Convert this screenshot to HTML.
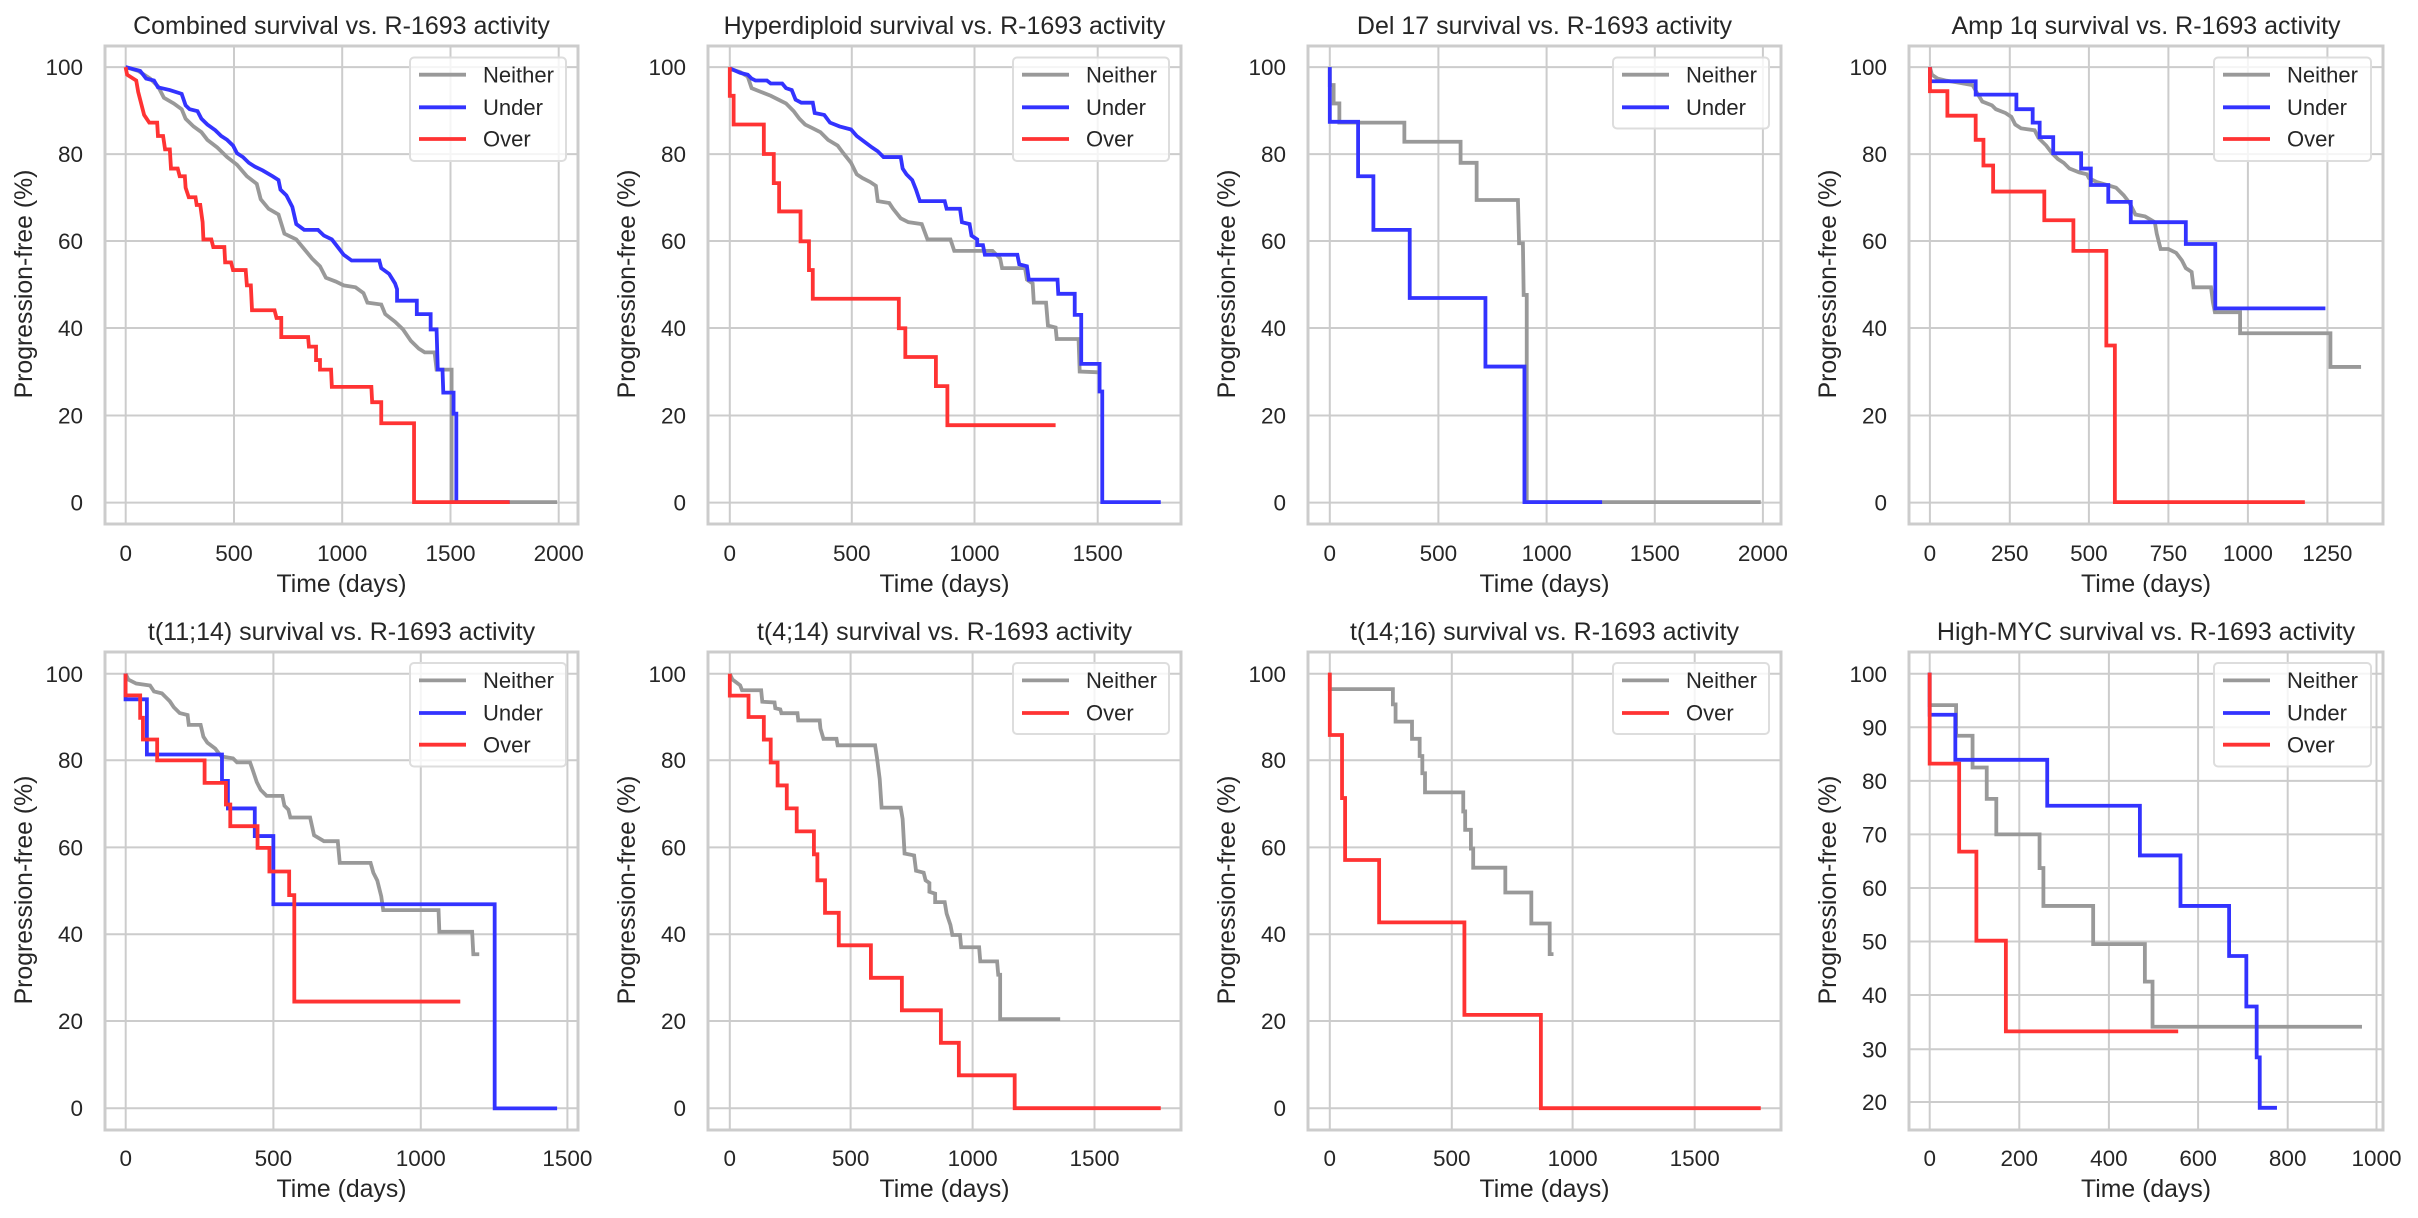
<!DOCTYPE html>
<html><head><meta charset="utf-8"><style>
html,body{margin:0;padding:0;background:#fff}
svg{display:block;font-family:"Liberation Sans",Arial,sans-serif;fill:#262626}
.g{stroke:#cccccc;stroke-width:2}
.fr{fill:none;stroke:#cccccc;stroke-width:3}
.c{fill:none;stroke-width:3.8;vector-effect:non-scaling-stroke;stroke-linejoin:miter}
.n{stroke:#999999}.u{stroke:#3333ff}.o{stroke:#ff3333}
.yt{font-size:22.5px;text-anchor:end}
.xt{font-size:22.5px;text-anchor:middle}
.lab{font-size:24.8px;text-anchor:middle}
.ti{font-size:25px;text-anchor:middle}
.lg{font-size:22px}
.lb{fill:#fff;fill-opacity:.8;stroke:#dddddd;stroke-width:2}
</style></head><body>
<svg width="2418" height="1218" viewBox="0 0 2418 1218" xmlns="http://www.w3.org/2000/svg">
<rect width="2418" height="1218" fill="#fff"/>

<g class="g">
<path d="M105 67.1H578M105 154.1H578M105 241H578M105 328H578M105 415.5H578M105 502.6H578"/>
<path d="M708 67.1H1181M708 154.1H1181M708 241H1181M708 328H1181M708 415.5H1181M708 502.6H1181"/>
<path d="M1308 67.1H1781M1308 154.1H1781M1308 241H1781M1308 328H1781M1308 415.5H1781M1308 502.6H1781"/>
<path d="M1909 67.1H2383M1909 154.1H2383M1909 241H2383M1909 328H2383M1909 415.5H2383M1909 502.6H2383"/>
<path d="M125.7 46V524M234 46V524M342.2 46V524M450.5 46V524M558.7 46V524"/>
<path d="M729.8 46V524M851.8 46V524M974.5 46V524M1097.7 46V524"/>
<path d="M1329.8 46V524M1438.4 46V524M1546.6 46V524M1654.8 46V524M1762.9 46V524"/>
<path d="M1929.9 46V524M2009.8 46V524M2088.9 46V524M2168.4 46V524M2247.9 46V524M2327.4 46V524"/>
<path d="M105 673.8H578M105 760.2H578M105 847.4H578M105 934.2H578M105 1021H578M105 1108.2H578"/>
<path d="M708 673.8H1181M708 760.2H1181M708 847.4H1181M708 934.2H1181M708 1021H1181M708 1108.2H1181"/>
<path d="M1308 673.8H1781M1308 760.2H1781M1308 847.4H1781M1308 934.2H1781M1308 1021H1781M1308 1108.2H1781"/>
<path d="M1909 673.8H2383M1909 727.3H2383M1909 780.9H2383M1909 834.4H2383M1909 888H2383M1909 941.5H2383M1909 995H2383M1909 1049.3H2383M1909 1102H2383"/>
<path d="M125.7 652V1130M273.4 652V1130M420.8 652V1130M567.4 652V1130"/>
<path d="M729.8 652V1130M850.6 652V1130M972.6 652V1130M1094.5 652V1130"/>
<path d="M1329.8 652V1130M1451.8 652V1130M1572.6 652V1130M1694.7 652V1130"/>
<path d="M1929.7 652V1130M2019.3 652V1130M2108.9 652V1130M2198.1 652V1130M2287.7 652V1130M2376.5 652V1130"/>
</g>

<g transform="translate(105,46) scale(0.3952,0.3830) translate(-266,-120)">
<polyline class="c n" points="318,175 350,185 380,205 400,225 415,255 440,270 460,285 470,310 490,330 510,345 525,365 550,385 575,410 600,430 625,460 650,480 660,520 680,545 705,560 720,610 750,625 770,650 790,675 810,695 825,725 850,735 870,745 900,750 920,765 930,790 965,795 975,820 1000,840 1020,860 1040,890 1060,910 1075,920 1100,920 1105,965 1143,965 1143,1311 1410,1311"/>
<polyline class="c u" points="318,175 355,185 370,205 390,210 400,228 430,235 460,245 470,275 480,285 500,290 510,310 525,325 545,340 560,355 575,365 590,380 600,400 615,410 630,425 645,435 665,445 690,460 705,470 710,495 725,510 740,540 750,585 770,600 805,600 820,615 840,625 855,645 870,665 890,680 960,680 965,700 985,715 1000,740 1005,755 1005,785 1055,785 1055,820 1090,820 1090,860 1105,860 1108,965 1120,965 1122,1025 1148,1025 1148,1080 1155,1080 1155,1311 1290,1311"/>
<polyline class="c o" points="318,175 322,195 345,210 350,240 365,300 378,320 398,320 400,355 413,355 418,390 430,390 433,440 450,440 455,460 468,460 470,490 478,515 495,515 498,535 507,535 513,580 515,625 535,625 540,645 568,645 570,685 585,685 590,705 622,705 625,745 635,745 638,810 695,810 700,830 712,830 712,880 780,880 782,905 800,905 800,940 810,940 810,965 838,965 840,1010 940,1010 942,1050 965,1050 965,1105 1048,1105 1048,1311 1290,1311"/>
</g>
<g transform="translate(708,46) scale(0.3824,0.3830) translate(-256,-120)">
<polyline class="c n" points="313,180 340,188 360,200 370,230 395,240 420,250 440,260 460,270 480,290 495,310 510,325 530,335 550,345 570,365 595,380 610,400 630,425 645,455 660,465 680,475 695,485 700,525 730,530 740,545 760,570 780,580 815,585 830,625 890,625 900,655 1000,655 1020,675 1025,700 1085,700 1090,730 1105,740 1108,790 1140,790 1145,850 1165,855 1168,885 1225,885 1228,970 1278,972"/>
<polyline class="c u" points="313,178 340,190 360,195 370,205 380,210 410,210 420,218 450,218 460,230 475,235 485,260 500,268 530,268 535,295 560,300 575,320 600,330 630,338 645,355 665,370 685,385 700,395 715,410 760,410 765,440 775,455 790,470 800,495 810,525 875,525 880,545 915,545 920,580 940,585 945,615 960,625 960,640 975,640 980,665 1065,665 1070,690 1090,695 1095,730 1170,730 1172,767 1215,767 1215,822 1232,822 1232,950 1280,950 1280,1022 1287,1022 1287,1311 1440,1311"/>
<polyline class="c o" points="313,175 313,250 323,250 323,325 402,325 402,402 428,402 428,478 442,478 442,552 498,552 498,630 520,630 520,705 530,705 530,780 755,780 755,857 772,857 772,932 852,932 852,1008 882,1008 882,1110 1165,1110"/>
</g>
<g transform="translate(1308,46) scale(0.3824,0.3830) translate(-256,-120)">
<polyline class="c n" points="313,175 313,222 323,222 323,270 338,270 338,320 508,320 508,370 655,370 655,425 697,425 697,522 805,522 808,635 818,635 820,770 828,770 828,1311 1440,1311"/>
<polyline class="c u" points="313,175 313,318 387,318 387,460 427,460 427,600 522,600 522,778 720,778 720,957 822,957 822,1311 1025,1311"/>
</g>
<g transform="translate(1909,46) scale(0.3877,0.3830) translate(-256,-120)">
<polyline class="c n" points="310,175 315,195 330,205 350,210 380,215 420,222 430,240 445,265 470,275 480,285 505,295 520,305 530,325 545,335 580,340 590,360 610,380 625,400 640,415 655,425 670,440 695,450 715,455 720,465 740,475 790,490 810,510 825,530 840,560 865,565 890,580 895,610 905,650 925,650 945,660 960,680 970,700 985,710 990,750 1035,750 1040,790 1045,815 1110,815 1110,870 1343,870 1343,958 1422,958"/>
<polyline class="c u" points="310,175 310,212 428,212 428,247 533,247 533,285 575,285 575,320 593,320 593,358 628,358 628,400 700,400 700,440 725,440 725,483 770,483 770,527 828,527 828,580 970,580 970,637 1046,637 1046,805 1330,805"/>
<polyline class="c o" points="310,175 310,238 355,238 355,302 428,302 428,365 448,365 448,432 473,432 473,500 605,500 605,575 680,575 680,655 765,655 765,902 787,902 787,1311 1277,1311"/>
</g>
<g transform="translate(105,652) scale(0.3952,0.3941) translate(-266,-130)">
<polyline class="c n" points="318,185 325,200 345,210 380,215 390,230 410,235 420,245 430,255 440,270 455,285 475,290 478,315 508,315 515,345 525,360 545,375 560,395 590,400 600,410 633,410 640,430 650,460 660,480 675,495 715,495 720,520 730,530 735,550 785,550 795,595 820,610 855,610 860,665 938,665 945,690 955,710 965,750 970,785 1110,785 1112,840 1195,840 1198,897 1213,897"/>
<polyline class="c u" points="318,185 318,250 372,250 372,390 562,390 562,457 577,457 577,527 645,527 645,597 692,597 692,770 1252,770 1252,1288 1410,1288"/>
<polyline class="c o" points="318,185 318,240 355,240 355,297 362,297 362,352 398,352 398,405 518,405 518,462 572,462 572,517 583,517 583,572 652,572 652,627 682,627 682,687 732,687 732,747 745,747 745,1017 1165,1017"/>
</g>
<g transform="translate(708,652) scale(0.3824,0.3824) translate(-256,-108)">
<polyline class="c n" points="313,165 320,180 340,195 345,208 395,208 398,238 430,240 432,255 445,258 448,268 490,268 492,287 548,287 550,308 558,335 592,335 595,352 693,352 698,385 705,440 710,515 760,515 765,545 770,635 795,640 800,680 820,685 825,705 835,712 835,735 850,740 850,762 875,762 880,792 890,822 895,848 915,848 918,880 965,880 968,917 1012,917 1015,952 1020,952 1020,1068 1177,1068"/>
<polyline class="c o" points="313,165 313,222 362,222 362,278 402,278 402,337 420,337 420,397 438,397 438,457 462,457 462,517 488,517 488,577 533,577 533,637 542,637 542,705 562,705 562,790 598,790 598,875 682,875 682,960 763,960 763,1045 865,1045 865,1130 912,1130 912,1215 1058,1215 1058,1301 1440,1301"/>
</g>
<g transform="translate(1308,652) scale(0.3824,0.3824) translate(-256,-108)">
<polyline class="c n" points="313,165 313,205 478,205 478,245 485,245 485,290 528,290 528,335 548,335 548,380 555,380 555,425 562,425 562,475 662,475 662,525 667,525 667,573 682,573 682,622 688,622 688,672 772,672 772,737 840,737 840,818 888,818 888,898 898,898"/>
<polyline class="c o" points="313,162 313,325 345,325 345,490 353,490 353,652 442,652 442,815 665,815 665,1057 865,1057 865,1301 1440,1301"/>
</g>
<g transform="translate(1909,652) scale(0.3829,0.3824) translate(-259,-108)">
<polyline class="c n" points="313,162 313,247 382,247 382,327 425,327 425,410 462,410 462,492 487,492 487,585 600,585 600,673 610,673 610,772 740,772 740,872 875,872 875,970 895,970 895,1088 1442,1088"/>
<polyline class="c u" points="313,162 313,272 380,272 380,390 620,390 620,510 862,510 862,640 968,640 968,772 1095,772 1095,903 1140,903 1140,1035 1167,1035 1167,1168 1175,1168 1175,1300 1220,1300"/>
<polyline class="c o" points="313,162 313,400 390,400 390,630 435,630 435,863 512,863 512,1100 962,1100"/>
</g>

<rect class="fr" x="105" y="46" width="473" height="478"/>
<rect class="fr" x="708" y="46" width="473" height="478"/>
<rect class="fr" x="1308" y="46" width="473" height="478"/>
<rect class="fr" x="1909" y="46" width="474" height="478"/>
<rect class="fr" x="105" y="652" width="473" height="478"/>
<rect class="fr" x="708" y="652" width="473" height="478"/>
<rect class="fr" x="1308" y="652" width="473" height="478"/>
<rect class="fr" x="1909" y="652" width="474" height="478"/>

<g stroke-width="3.8">
<rect class="lb" x="410" y="57.5" width="156" height="103.5" rx="4"/>
<path d="M419 74.7H466" stroke="#999"/><path d="M419 107.3H466" stroke="#3333ff"/><path d="M419 139H466" stroke="#ff3333"/>
<rect class="lb" x="1013" y="57.5" width="156" height="103.5" rx="4"/>
<path d="M1022 74.7H1069" stroke="#999"/><path d="M1022 107.3H1069" stroke="#3333ff"/><path d="M1022 139H1069" stroke="#ff3333"/>
<rect class="lb" x="1613" y="57.5" width="156" height="71" rx="4"/>
<path d="M1622 74.7H1669" stroke="#999"/><path d="M1622 107.3H1669" stroke="#3333ff"/>
<rect class="lb" x="2214" y="57.5" width="157" height="103.5" rx="4"/>
<path d="M2223 74.7H2270" stroke="#999"/><path d="M2223 107.3H2270" stroke="#3333ff"/><path d="M2223 139H2270" stroke="#ff3333"/>
<rect class="lb" x="410" y="663" width="156" height="103.5" rx="4"/>
<path d="M419 680.4H466" stroke="#999"/><path d="M419 713H466" stroke="#3333ff"/><path d="M419 744.7H466" stroke="#ff3333"/>
<rect class="lb" x="1013" y="663" width="156" height="71" rx="4"/>
<path d="M1022 680.4H1069" stroke="#999"/><path d="M1022 713H1069" stroke="#ff3333"/>
<rect class="lb" x="1613" y="663" width="156" height="71" rx="4"/>
<path d="M1622 680.4H1669" stroke="#999"/><path d="M1622 713H1669" stroke="#ff3333"/>
<rect class="lb" x="2214" y="663" width="157" height="103.5" rx="4"/>
<path d="M2223 680.4H2270" stroke="#999"/><path d="M2223 713H2270" stroke="#3333ff"/><path d="M2223 744.7H2270" stroke="#ff3333"/>
</g>
<g class="lg">
<text x="483" y="82.5">Neither</text><text x="483" y="115">Under</text><text x="483" y="146.5">Over</text>
<text x="1086" y="82.5">Neither</text><text x="1086" y="115">Under</text><text x="1086" y="146.5">Over</text>
<text x="1686" y="82.5">Neither</text><text x="1686" y="115">Under</text>
<text x="2287" y="82.5">Neither</text><text x="2287" y="115">Under</text><text x="2287" y="146.5">Over</text>
<text x="483" y="688">Neither</text><text x="483" y="720.5">Under</text><text x="483" y="752.5">Over</text>
<text x="1086" y="688">Neither</text><text x="1086" y="720.5">Over</text>
<text x="1686" y="688">Neither</text><text x="1686" y="720.5">Over</text>
<text x="2287" y="688">Neither</text><text x="2287" y="720.5">Under</text><text x="2287" y="752.5">Over</text>
</g>

<text class="ti" x="341.5" y="34">Combined survival vs. R-1693 activity</text>
<text class="ti" x="944.5" y="34">Hyperdiploid survival vs. R-1693 activity</text>
<text class="ti" x="1544.5" y="34">Del 17 survival vs. R-1693 activity</text>
<text class="ti" x="2146" y="34">Amp 1q survival vs. R-1693 activity</text>
<text class="ti" x="341.5" y="640">t(11;14) survival vs. R-1693 activity</text>
<text class="ti" x="944.5" y="640">t(4;14) survival vs. R-1693 activity</text>
<text class="ti" x="1544.5" y="640">t(14;16) survival vs. R-1693 activity</text>
<text class="ti" x="2146" y="640">High-MYC survival vs. R-1693 activity</text>

<g class="lab">
<text x="341.5" y="592">Time (days)</text><text x="944.5" y="592">Time (days)</text><text x="1544.5" y="592">Time (days)</text><text x="2146" y="592">Time (days)</text>
<text x="341.5" y="1197">Time (days)</text><text x="944.5" y="1197">Time (days)</text><text x="1544.5" y="1197">Time (days)</text><text x="2146" y="1197">Time (days)</text>
<text transform="translate(32,284) rotate(-90)">Progression-free (%)</text>
<text transform="translate(635,284) rotate(-90)">Progression-free (%)</text>
<text transform="translate(1235,284) rotate(-90)">Progression-free (%)</text>
<text transform="translate(1836,284) rotate(-90)">Progression-free (%)</text>
<text transform="translate(32,890) rotate(-90)">Progression-free (%)</text>
<text transform="translate(635,890) rotate(-90)">Progression-free (%)</text>
<text transform="translate(1235,890) rotate(-90)">Progression-free (%)</text>
<text transform="translate(1836,890) rotate(-90)">Progression-free (%)</text>
</g>

<g class="yt">
<text x="83" y="75">100</text><text x="83" y="162">80</text><text x="83" y="249">60</text><text x="83" y="336">40</text><text x="83" y="423.5">20</text><text x="83" y="510.5">0</text>
<text x="686" y="75">100</text><text x="686" y="162">80</text><text x="686" y="249">60</text><text x="686" y="336">40</text><text x="686" y="423.5">20</text><text x="686" y="510.5">0</text>
<text x="1286" y="75">100</text><text x="1286" y="162">80</text><text x="1286" y="249">60</text><text x="1286" y="336">40</text><text x="1286" y="423.5">20</text><text x="1286" y="510.5">0</text>
<text x="1887" y="75">100</text><text x="1887" y="162">80</text><text x="1887" y="249">60</text><text x="1887" y="336">40</text><text x="1887" y="423.5">20</text><text x="1887" y="510.5">0</text>
<text x="83" y="681.8">100</text><text x="83" y="768.2">80</text><text x="83" y="855.4">60</text><text x="83" y="942.2">40</text><text x="83" y="1029">20</text><text x="83" y="1116.2">0</text>
<text x="686" y="681.8">100</text><text x="686" y="768.2">80</text><text x="686" y="855.4">60</text><text x="686" y="942.2">40</text><text x="686" y="1029">20</text><text x="686" y="1116.2">0</text>
<text x="1286" y="681.8">100</text><text x="1286" y="768.2">80</text><text x="1286" y="855.4">60</text><text x="1286" y="942.2">40</text><text x="1286" y="1029">20</text><text x="1286" y="1116.2">0</text>
<text x="1887" y="681.8">100</text><text x="1887" y="735.3">90</text><text x="1887" y="788.9">80</text><text x="1887" y="842.4">70</text><text x="1887" y="896">60</text><text x="1887" y="949.5">50</text><text x="1887" y="1003">40</text><text x="1887" y="1057.3">30</text><text x="1887" y="1110">20</text>
</g>

<g class="xt">
<text x="125.7" y="561">0</text><text x="234" y="561">500</text><text x="342.2" y="561">1000</text><text x="450.5" y="561">1500</text><text x="558.7" y="561">2000</text>
<text x="729.8" y="561">0</text><text x="851.8" y="561">500</text><text x="974.5" y="561">1000</text><text x="1097.7" y="561">1500</text>
<text x="1329.8" y="561">0</text><text x="1438.4" y="561">500</text><text x="1546.6" y="561">1000</text><text x="1654.8" y="561">1500</text><text x="1762.9" y="561">2000</text>
<text x="1929.9" y="561">0</text><text x="2009.8" y="561">250</text><text x="2088.9" y="561">500</text><text x="2168.4" y="561">750</text><text x="2247.9" y="561">1000</text><text x="2327.4" y="561">1250</text>
<text x="125.7" y="1166">0</text><text x="273.4" y="1166">500</text><text x="420.8" y="1166">1000</text><text x="567.4" y="1166">1500</text>
<text x="729.8" y="1166">0</text><text x="850.6" y="1166">500</text><text x="972.6" y="1166">1000</text><text x="1094.5" y="1166">1500</text>
<text x="1329.8" y="1166">0</text><text x="1451.8" y="1166">500</text><text x="1572.6" y="1166">1000</text><text x="1694.7" y="1166">1500</text>
<text x="1929.7" y="1166">0</text><text x="2019.3" y="1166">200</text><text x="2108.9" y="1166">400</text><text x="2198.1" y="1166">600</text><text x="2287.7" y="1166">800</text><text x="2376.5" y="1166">1000</text>
</g>
</svg>
</body></html>
